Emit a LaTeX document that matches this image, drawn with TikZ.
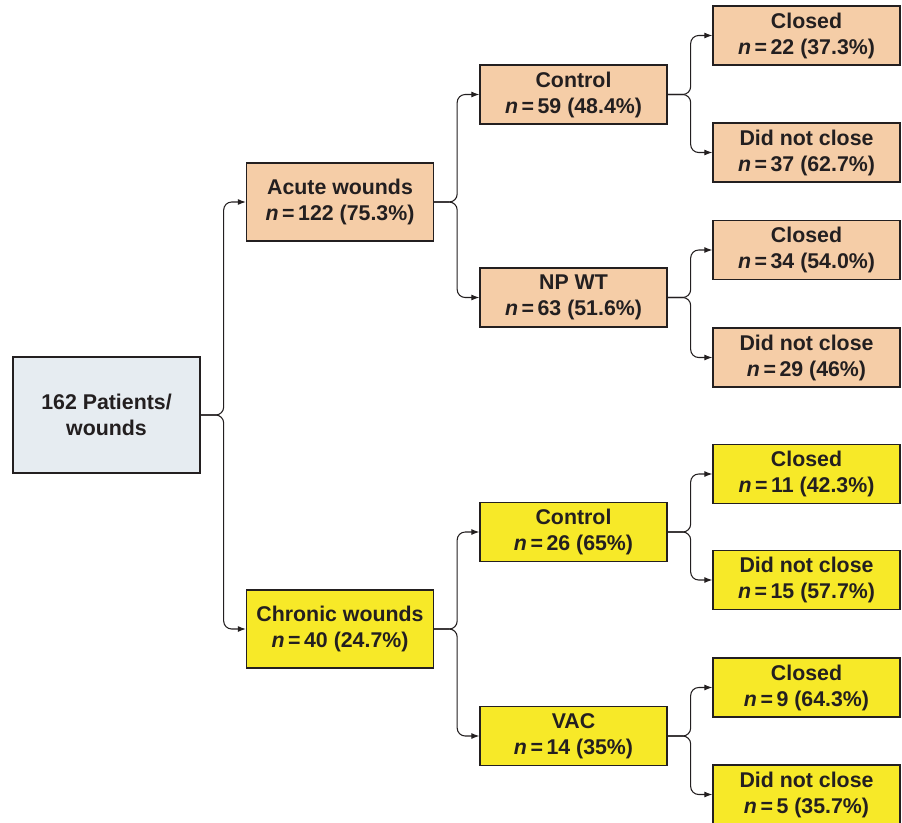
\documentclass[tikz,border=0pt]{standalone}
\usepackage{fontspec}
\setmainfont{Liberation Sans}
\usepackage{xcolor}
\usetikzlibrary{arrows.meta,positioning}
\definecolor{ink}{HTML}{231F20}
\definecolor{rootfill}{HTML}{E6ECF1}
\definecolor{acutefill}{HTML}{F5CDA7}
\definecolor{chronfill}{HTML}{F7E928}
\newcommand{\nval}[1]{\textit{n}\,=\,#1}

\begin{document}
\begin{tikzpicture}[x=0.75pt,y=-0.75pt,
    box/.style={draw=ink,line width=1pt,align=center,text=ink,inner sep=2pt,
        minimum width=140.25pt,minimum height=44.25pt,
        font=\bfseries\fontsize{16}{19.5}\selectfont},
    link/.style={-{Latex[length=6pt,width=4.5pt]},line width=0.8pt,draw=ink,
        rounded corners=6pt}
]
\useasboundingbox (0,0) rectangle (902,822);
\node[box,fill=rootfill,minimum height=87pt] (root) at (106.5,415)
    {162 Patients/\\wounds};
% second column
\node[box,fill=acutefill,minimum height=58.5pt] (acute) at (340,202)
    {Acute wounds\\\nval{122} (75.3\%)};
\node[box,fill=chronfill,minimum height=58.5pt] (chronic) at (340,629)
    {Chronic wounds\\\nval{40} (24.7\%)};
% third column
\node[box,fill=acutefill] (ctrlA) at (573.5,94.5) {Control\\\nval{59} (48.4\%)};
\node[box,fill=acutefill] (npwt) at (573.5,297.5) {NP WT\\\nval{63} (51.6\%)};
\node[box,fill=chronfill] (ctrlC) at (573.5,532) {Control\\\nval{26} (65\%)};
\node[box,fill=chronfill] (vac) at (573.5,736) {VAC\\\nval{14} (35\%)};
% outcomes
\node[box,fill=acutefill] (closedA) at (806.5,35.5) {Closed\\\nval{22} (37.3\%)};
\node[box,fill=acutefill] (openA) at (806.5,152.5) {Did not close\\\nval{37} (62.7\%)};
\node[box,fill=acutefill] (closedN) at (806.5,250) {Closed\\\nval{34} (54.0\%)};
\node[box,fill=acutefill] (openN) at (806.5,357.5) {Did not close\\\nval{29} (46\%)};
\node[box,fill=chronfill] (closedC) at (806.5,474) {Closed\\\nval{11} (42.3\%)};
\node[box,fill=chronfill] (openC) at (806.5,580) {Did not close\\\nval{15} (57.7\%)};
\node[box,fill=chronfill] (closedV) at (806.5,687.5) {Closed\\\nval{9} (64.3\%)};
\node[box,fill=chronfill] (openV) at (806.5,794.5) {Did not close\\\nval{5} (35.7\%)};

\foreach \a/\b in {root/acute,root/chronic,acute/ctrlA,acute/npwt,
    chronic/ctrlC,chronic/vac,ctrlA/closedA,ctrlA/openA,npwt/closedN,
    npwt/openN,ctrlC/closedC,ctrlC/openC,vac/closedV,vac/openV}
    \draw[link] (\a.east) -- ++(23,0) |- (\b.west);
\end{tikzpicture}
\end{document}
